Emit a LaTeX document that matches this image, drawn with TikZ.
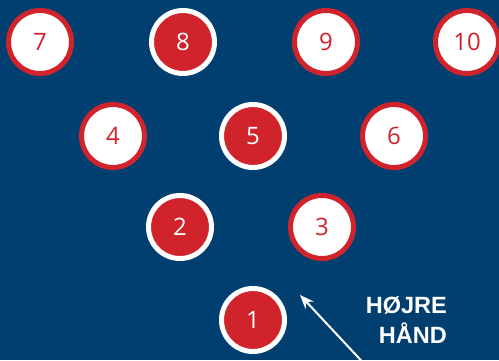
\documentclass[tikz,border=0pt]{standalone}
\usepackage{fontspec}
\setmainfont{Open Sans}
\newfontfamily\labelfont{Liberation Sans}
\usetikzlibrary{arrows.meta}
\definecolor{bgblue}{HTML}{003F70}
\definecolor{pinred}{HTML}{D0232B}
\begin{document}
\begin{tikzpicture}[x=1pt,y=1pt,
  pinw/.style={circle,draw=pinred,fill=white,line width=5pt,minimum size=63pt,inner sep=0pt,text=pinred,font=\fontsize{24}{28}\selectfont},
  pinr/.style={circle,draw=white,fill=pinred,line width=5pt,minimum size=63pt,inner sep=0pt,text=white,font=\fontsize{24}{28}\selectfont},
  lbl/.style={text=white,font=\labelfont\bfseries\fontsize{23.5}{30}\selectfont,align=right,inner sep=0pt}]
\useasboundingbox (0,0) rectangle (499,360);
\clip (0,0) rectangle (499,360);
\fill[bgblue] (0,0) rectangle (499,360);
\node[pinw] (p7) at (40,318) {7};
\node[pinr] (p8) at (183,318) {8};
\node[pinw] (p9) at (326,318) {9};
\node[pinw] (p10) at (467,318) {10};
\node[pinw] (p4) at (113,224) {4};
\node[pinr] (p5) at (253,224) {5};
\node[pinw] (p6) at (394,224) {6};
\node[pinr] (p2) at (180,133) {2};
\node[pinw] (p3) at (322,133) {3};
\node[pinr] (p1) at (253,40) {1};
\node[lbl,anchor=east] (hand) at (447,40) {HØJRE\\HÅND};
\coordinate (tail) at (370,-10);
\coordinate (tip) at (300,65);
\draw[white,line width=2pt,-{Stealth[length=14pt,width=11pt]}] (tail) -- (tip);
\end{tikzpicture}
\end{document}
